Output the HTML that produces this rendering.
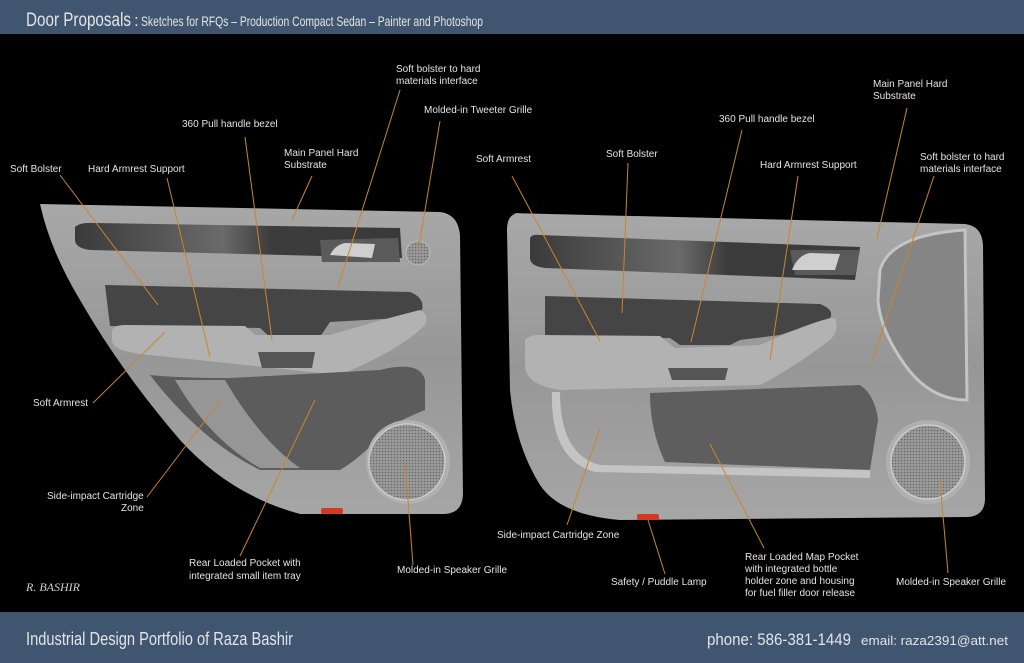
<!DOCTYPE html>
<html><head><meta charset="utf-8"><style>
html,body{margin:0;padding:0;background:#000;width:1024px;height:663px;overflow:hidden}
svg{display:block}
.l{font-family:"Liberation Sans",sans-serif;font-size:10px;fill:#e4e4e4}
.c{stroke:#c8862e;stroke-width:1;fill:none}
.h{font-family:"Liberation Sans",sans-serif;fill:#e4e4e4}
</style></head><body>
<svg width="1024" height="663" viewBox="0 0 1024 663" xmlns="http://www.w3.org/2000/svg">
<defs>
<linearGradient id="body" x1="0" y1="0" x2="0" y2="1">
<stop offset="0" stop-color="#a8a8a8"/><stop offset="0.5" stop-color="#979797"/><stop offset="1" stop-color="#a6a6a6"/></linearGradient>
<linearGradient id="band" x1="0" y1="0" x2="1" y2="0">
<stop offset="0" stop-color="#3a3a3a"/><stop offset="0.45" stop-color="#6a6a6a"/><stop offset="0.6" stop-color="#3c3c3c"/><stop offset="1" stop-color="#3a3a3a"/></linearGradient>
<pattern id="mesh" width="3" height="3" patternUnits="userSpaceOnUse"><rect width="3" height="3" fill="#9a9a9a"/><circle cx="1.5" cy="1.5" r="0.8" fill="#666"/></pattern>
</defs>
<rect x="0" y="0" width="1024" height="34" fill="#3f5570"/>
<rect x="0" y="612" width="1024" height="51" fill="#3f5570"/>
<text class="h" x="26" y="26" font-size="19" textLength="105" lengthAdjust="spacingAndGlyphs">Door Proposals</text>
<text class="h" x="134" y="26" font-size="17">:</text>
<text class="h" x="141" y="26" font-size="14" textLength="342" lengthAdjust="spacingAndGlyphs">Sketches for RFQs – Production Compact Sedan – Painter and Photoshop</text>
<text class="h" x="26" y="645" font-size="18" textLength="267" lengthAdjust="spacingAndGlyphs">Industrial Design Portfolio of Raza Bashir</text>
<text class="h" x="707" y="645" font-size="17" textLength="144" lengthAdjust="spacingAndGlyphs">phone:  586-381-1449</text>
<text class="h" x="861" y="645" font-size="13" textLength="147" lengthAdjust="spacingAndGlyphs">email: raza2391@att.net</text>

<!-- LEFT DOOR -->
<path d="M40,204 L440,212 Q458,214 460,235 L463,495 Q462,513 445,514 L300,514 Q230,495 180,440 Q120,370 80,300 Q50,250 40,204 Z" fill="url(#body)"/>
<path d="M75,227 Q80,222 95,223 L400,228 L402,258 L90,250 Q75,248 75,240 Z" fill="url(#band)"/>
<path d="M320,240 L398,238 L400,262 L322,262 Z" fill="#5a5a5a"/>
<path d="M330,255 Q335,245 345,243 L375,244 L372,258 Z" fill="#cfcfcf"/>
<circle cx="418" cy="253" r="12" fill="url(#mesh)" stroke="#bbb"/>
<path d="M105,285 L410,292 Q425,298 422,310 L400,318 L330,322 L320,337 L270,337 L260,328 L110,326 Z" fill="#454545"/>
<path d="M112,330 Q115,325 125,325 L245,326 L255,335 L330,335 Q380,320 420,310 Q430,315 425,325 Q400,350 340,375 L150,355 Q112,352 112,340 Z" fill="#b2b2b2"/>
<path d="M258,352 L315,352 L312,368 L262,368 Z" fill="#555"/>
<path d="M150,375 Q180,378 230,378 L380,370 Q420,360 425,380 L425,410 Q400,420 385,430 Q365,455 340,470 L260,470 Q200,440 150,375 Z" fill="#5c5c5c"/>
<path d="M175,380 Q210,440 260,468 L300,468 Q260,440 225,380 Z" fill="#969696"/>
<circle cx="408" cy="462" r="42" fill="#b0b0b0"/>
<circle cx="407" cy="462" r="38" fill="url(#mesh)" stroke="#ccc" stroke-width="1.5"/>
<rect x="321" y="508" width="22" height="6" rx="2" fill="#d03a20"/>

<!-- RIGHT DOOR -->
<path d="M508,213 L965,224 Q982,226 983,245 L985,500 Q984,516 968,517 L620,520 Q560,515 540,485 Q515,445 510,390 L507,230 Q507,213 520,213 Z" fill="url(#body)"/>
<path d="M530,238 Q532,234 540,235 L860,247 L855,280 L545,268 Q530,266 530,258 Z" fill="url(#band)"/>
<path d="M790,250 L860,250 L855,275 L795,275 Z" fill="#5a5a5a"/>
<path d="M792,270 Q798,255 810,253 L840,254 L835,270 Z" fill="#cfcfcf"/>
<path d="M880,270 Q890,235 965,230 L967,400 Q930,400 905,365 Q880,330 878,300 Z" fill="#858585" stroke="#c4c4c4" stroke-width="3"/>
<path d="M545,296 L820,304 Q835,310 830,318 L780,335 L740,340 L730,345 L680,345 L670,338 L545,338 Z" fill="#454545"/>
<path d="M525,340 Q528,335 540,335 L660,336 L675,348 L760,345 Q820,318 835,318 Q840,330 830,340 Q790,370 760,385 L560,390 Q525,385 525,365 Z" fill="#b2b2b2"/>
<path d="M668,368 L728,368 L725,380 L672,380 Z" fill="#555"/>
<path d="M650,393 L860,385 Q875,395 878,420 L870,470 L665,462 Q650,430 650,393 Z" fill="#5e5e5e"/>
<path d="M560,392 Q560,455 600,465 L870,470 L870,478 L595,472 Q550,460 552,392 Z" fill="#c4c4c4"/>
<circle cx="928" cy="462" r="42" fill="#b0b0b0"/>
<circle cx="928" cy="462" r="37" fill="url(#mesh)" stroke="#ccc" stroke-width="1.5"/>
<rect x="637" y="514" width="22" height="6" rx="2" fill="#d03a20"/>

<!-- leader lines left -->
<line class="c" x1="60" y1="175" x2="158" y2="305"/>
<line class="c" x1="167" y1="178" x2="210" y2="357"/>
<line class="c" x1="245" y1="137" x2="272" y2="340"/>
<line class="c" x1="312" y1="176" x2="292" y2="220"/>
<line class="c" x1="400" y1="90" x2="338" y2="287"/>
<line class="c" x1="440" y1="121" x2="418" y2="252"/>
<line class="c" x1="93" y1="403" x2="165" y2="332"/>
<line class="c" x1="147" y1="497" x2="223" y2="397"/>
<line class="c" x1="240" y1="556" x2="315" y2="400"/>
<line class="c" x1="413" y1="565" x2="405" y2="461"/>
<!-- leader lines right -->
<line class="c" x1="512" y1="176" x2="600" y2="341"/>
<line class="c" x1="628" y1="163" x2="622" y2="313"/>
<line class="c" x1="742" y1="130" x2="691" y2="342"/>
<line class="c" x1="798" y1="176" x2="770" y2="360"/>
<line class="c" x1="907" y1="108" x2="877" y2="238"/>
<line class="c" x1="934" y1="176" x2="872" y2="362"/>
<line class="c" x1="567" y1="525" x2="600" y2="428"/>
<line class="c" x1="665" y1="574" x2="648" y2="520"/>
<line class="c" x1="764" y1="548" x2="710" y2="444"/>
<line class="c" x1="948" y1="573" x2="940" y2="481"/>

<!-- labels left -->
<text class="l" x="10" y="172">Soft Bolster</text>
<text class="l" x="88" y="172">Hard Armrest Support</text>
<text class="l" x="182" y="127">360 Pull handle bezel</text>
<text class="l" x="284" y="156">Main Panel Hard</text>
<text class="l" x="284" y="168">Substrate</text>
<text class="l" x="396" y="72">Soft bolster to hard</text>
<text class="l" x="396" y="84">materials interface</text>
<text class="l" x="424" y="113">Molded-in Tweeter Grille</text>
<text class="l" x="33" y="406">Soft Armrest</text>
<text class="l" x="47" y="499">Side-impact Cartridge</text>
<text class="l" x="121" y="511">Zone</text>
<text class="l" x="189" y="566">Rear Loaded Pocket with</text>
<text class="l" x="189" y="579">integrated small item tray</text>
<text class="l" x="397" y="573">Molded-in Speaker Grille</text>
<!-- labels right -->
<text class="l" x="476" y="162">Soft Armrest</text>
<text class="l" x="606" y="157">Soft Bolster</text>
<text class="l" x="719" y="122">360 Pull handle bezel</text>
<text class="l" x="760" y="168">Hard Armrest Support</text>
<text class="l" x="873" y="87">Main Panel Hard</text>
<text class="l" x="873" y="99">Substrate</text>
<text class="l" x="920" y="160">Soft bolster to hard</text>
<text class="l" x="920" y="172">materials interface</text>
<text class="l" x="497" y="538">Side-impact Cartridge Zone</text>
<text class="l" x="611" y="585">Safety / Puddle Lamp</text>
<text class="l" x="745" y="560">Rear Loaded Map Pocket</text>
<text class="l" x="745" y="572">with integrated bottle</text>
<text class="l" x="745" y="584">holder zone and housing</text>
<text class="l" x="745" y="596">for fuel filler door release</text>
<text class="l" x="896" y="585">Molded-in Speaker Grille</text>
<text x="26" y="591" font-family="Liberation Serif,serif" font-style="italic" font-size="12" fill="#cfcfcf">R. BASHIR</text>
</svg>
</body></html>
